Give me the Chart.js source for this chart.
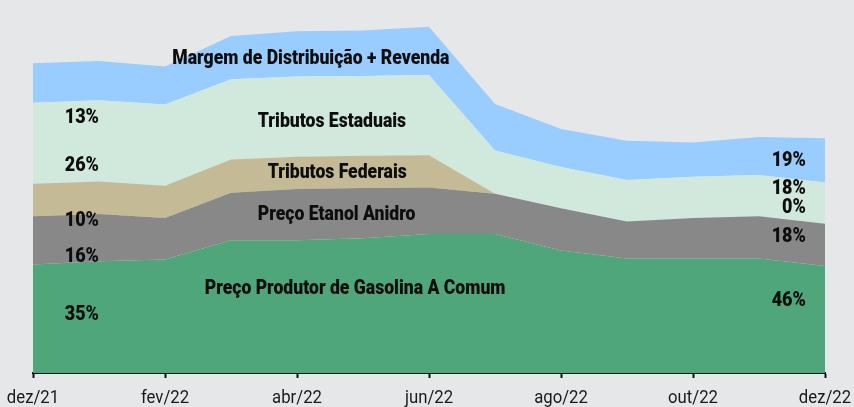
<!DOCTYPE html>
<html lang="pt-BR">
<head>
<meta charset="utf-8">
<title>Composição do preço da gasolina</title>
<script src="https://cdn.jsdelivr.net/npm/chart.js@4"></script>
<style>
  html, body { margin: 0; padding: 0; background: #e6e7e9; }
  #wrap { position: relative; width: 854px; height: 407px; }
</style>
</head>
<body>
<div id="wrap"><canvas id="precoChart"></canvas></div>
<script>
// meses (dez/21 a dez/22)
const meses = ['dez/21', 'jan/22', 'fev/22', 'mar/22', 'abr/22', 'mai/22', 'jun/22',
               'jul/22', 'ago/22', 'set/22', 'out/22', 'nov/22', 'dez/22'];

// componentes do preço (R$/litro)
const produtorGasolina = [2.31, 2.38, 2.42, 2.83, 2.83, 2.87, 2.96, 2.96, 2.61, 2.44, 2.44, 2.44, 2.28];
const etanolAnidro     = [1.03, 1.01, 0.88, 1.01, 1.09, 1.07, 0.99, 0.86, 0.90, 0.79, 0.86, 0.90, 0.90];
const tributosFederais = [0.69, 0.69, 0.69, 0.71, 0.69, 0.69, 0.69, 0.00, 0.00, 0.00, 0.00, 0.00, 0.00];
const tributosEstaduais = [1.73, 1.73, 1.73, 1.71, 1.71, 1.70, 1.71, 0.92, 0.88, 0.88, 0.88, 0.88, 0.88];
const margemDistRevenda = [0.84, 0.84, 0.81, 0.92, 0.96, 0.97, 1.03, 0.99, 0.81, 0.84, 0.73, 0.81, 0.94];

const nomes = ['Preço Produtor de Gasolina A Comum', 'Preço Etanol Anidro', 'Tributos Federais',
               'Tributos Estaduais', 'Margem de Distribuição + Revenda'];
const cores = ['#4fa67a', '#888888', '#c4bb96', '#d1e8dc', '#99ccff'];
const series = [produtorGasolina, etanolAnidro, tributosFederais, tributosEstaduais, margemDistRevenda];

const FONTE = 'Roboto, "Noto Sans", sans-serif';

// onde escrever o nome de cada faixa (posição no eixo x, valor no eixo y)
const posNomes = [[4.88, 1.80], [4.60, 3.36], [4.61, 4.26], [4.53, 5.35], [4.21, 6.70]];
// colunas de percentuais: início e fim da série
const posPctInicio = { x: 0.74, ys: [1.24, 2.48, 3.23, 4.41, 5.44], align: 'center' };
const posPctFim    = { x: 11.71, ys: [1.54, 2.89, 3.51, 3.92, 4.52], align: 'right' };

function percentuais(idx) {
  const total = series.reduce((s, arr) => s + arr[idx], 0);
  return series.map(arr => Math.round(arr[idx] / total * 100) + '%');
}

// texto estreitado na horizontal (imita fonte condensada)
function texto(ctx, t, x, y, align, sx) {
  ctx.save();
  ctx.translate(x, y);
  ctx.scale(sx, 1);
  ctx.textAlign = align;
  ctx.fillText(t, 0, 0);
  ctx.restore();
}

const rotulos = {
  id: 'rotulos',
  afterDraw(chart) {
    const { ctx, scales: { x, y } } = chart;
    ctx.save();
    ctx.fillStyle = '#0d0d0d';
    ctx.textBaseline = 'middle';

    ctx.font = '900 20px ' + FONTE;
    nomes.forEach((n, i) => {
      texto(ctx, n, x.getPixelForValue(posNomes[i][0]), y.getPixelForValue(posNomes[i][1]), 'center', 0.88);
    });

    [[posPctInicio, 0], [posPctFim, meses.length - 1]].forEach(([pos, idx]) => {
      percentuais(idx).forEach((p, i) => {
        texto(ctx, p, x.getPixelForValue(pos.x), y.getPixelForValue(pos.ys[i]), pos.align, 0.9);
      });
    });

    // rótulos do eixo x
    ctx.font = '19px ' + FONTE;
    ctx.fillStyle = '#1a1a1a';
    x.ticks.forEach((t, i) => {
      if (t.label == null) return;
      texto(ctx, t.label, x.getPixelForTick(i), x.bottom + 20, 'center', 0.88);
    });
    ctx.restore();
  }
};

new Chart(document.getElementById('precoChart'), {
  type: 'line',
  data: {
    labels: meses,
    datasets: series.map((arr, i) => ({
      label: nomes[i],
      data: arr,
      backgroundColor: cores[i],
      borderWidth: 0,
      pointRadius: 0,
      tension: 0,
      fill: i === 0 ? 'origin' : '-1'
    }))
  },
  options: {
    responsive: true,
    maintainAspectRatio: false,
    animation: false,
    layout: { padding: { left: 33, right: 29, top: 21, bottom: 29 } },
    plugins: { legend: { display: false }, tooltip: { enabled: false } },
    scales: {
      x: {
        offset: false,
        grid: { display: true, drawOnChartArea: false, drawTicks: true, tickLength: 5, tickColor: '#111', tickWidth: 2 },
        border: { display: true, color: '#111', width: 2 },
        ticks: {
          display: false,
          autoSkip: false,
          callback(v, i) { return i % 2 === 0 ? meses[i] : null; }
        }
      },
      y: { display: false, stacked: true, min: 0, max: 7.5 }
    }
  },
  plugins: [rotulos]
});
</script>
</body>
</html>
